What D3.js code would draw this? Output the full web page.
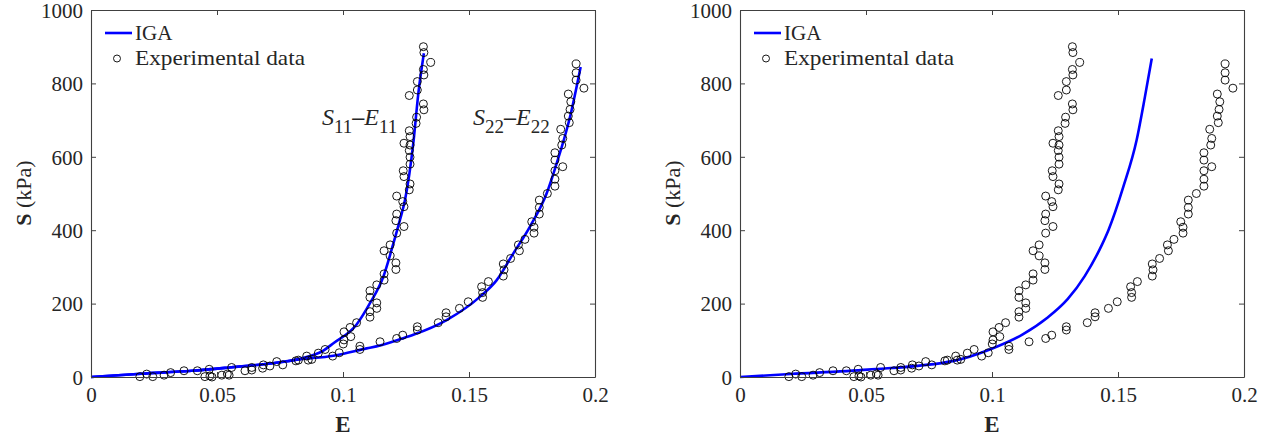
<!DOCTYPE html>
<html><head><meta charset="utf-8">
<script src="https://cdn.jsdelivr.net/npm/d3@7"></script>
<style>body{margin:0;background:#fff}svg{display:block}text{font-family:"Liberation Serif","Times New Roman",serif;fill:#262626}</style>
</head><body><svg id="c" width="1270" height="439" font-family="Liberation Serif"></svg>
<script>
// Experimental data S11-E11
const s11E = [.0194,.0221,.0245,.0290,.0316,.0369,.0422,.0452,.0469,.0472,.0480,.0519,.0541,.0548,.0558,.0611,.0638,.0638,.0681,.0684,.0710,.0737,.0761,.0813,.0823,.0856,.0862,.0876,.0902,.0929,
.1001,.1004,.1004,.1031,.1028,.1054,.1107,.1107,.1134,.1134,.1107,.1107,.1134,.1163,.1163,.1210,.1210,.1187,.1163,.1187,.1213,.1242,.1210,.1213,.1242,.1237,.1213,.1263,.1266,.1242,.1239,.1266,.1266,.1263,.1266,.1242,.1266,.1263,.1290,.1292,.1321,.1319,.1263,.1295,.1295,.1321,.1319,.1348,.1321,.1319];
const s11S = [1,8,1,5,12,17,17,1,21,3,0,5,8,5,26,17,26,19,24,33,30,42,33,44,46,57,46,48,65,75,
90,101,123,110,135,148,163,178,187,202,217,235,251,264,281,293,311,330,344,360,392,410,426,444,464,478,493,510,526,546,562,580,599,617,632,637,655,671,691,708,728,744,767,782,805,823,838,857,884,900];
// Experimental data S22-E22
const s22E = [.0959,.0985,.1067,.1067,.1147,.1213,.1237,.1295,.1295,.1378,.1409,.1409,.1462,.1497,.1554,.1554,.1550,.1577,.1636,.1639,.1636,.1665,.1700,.1696,.1722,.1758,.1758,.1749,.1779,.1779,.1779,.1811,.1841,.1841,.1841,.1872,.1841,.1841,.1868,.1872,.1864,.1898,.1894,.1901,.1904,.1894,.1956,.1925,.1925,.1925];
const s22S = [57,66,75,84,96,105,114,128,137,148,164,175,187,205,217,230,246,260,275,292,308,323,344,360,375,392,408,423,444,462,482,500,520,539,562,573,591,611,632,650,675,693,711,729,750,771,787,809,829,853];
// IGA fits, left panel
const igaL11E = [0,.02,.04,.055,.07,.0829,.0922,.0962,.1054,.1107,.1160,.1200,.1226,.1246,.1279,.1299,.1321];
const igaL11S = [0,9,17,26,36,50,72,92,143,201,273,364,428,482,637,773,882];
const igaL22E = [0,.02,.04,.055,.07,.0829,.0962,.1094,.1147,.1226,.1279,.1411,.1544,.1610,.1676,.1742,.1808,.1848,.1901,.1943];
const igaL22S = [0,9,17,26,36,48,58,78,86,103,115,155,219,264,337,410,500,582,709,845];
// IGA fit, right panel
const igaRE = [0,.02,.0507,.0848,.0999,.1122,.1217,.1300,.1368,.1436,.1462,.1521,.1574,.1607,.1634];
const igaRS = [0,8,20,44,77,116,160,212,275,360,400,518,646,764,868];
const xTicks = [0,0.05,0.1,0.15,0.2];
const yTicks = [0,200,400,600,800,1000];
const xTickLabels = ["0","0.05","0.1","0.15","0.2"];
const yTickLabels = ["0","200","400","600","800","1000"];
const legendLabels = ["IGA","Experimental data"];

const svg = d3.select("#c");
const pts = (E,S)=>E.map((e,i)=>[e,S[i]]);
const expPts = pts(s11E,s11S).concat(pts(s22E,s22S));
const FF = "Liberation Serif";

function panel(x0,x1,curves,annot){
  const x = d3.scaleLinear().domain([0,0.2]).range([x0,x1]);
  const y = d3.scaleLinear().domain([0,1000]).range([377,10]);
  const g = svg.append("g");
  const line = d3.line().x(d=>x(d[0])).y(d=>y(d[1])).curve(d3.curveMonotoneX);
  curves.forEach(c=>g.append("path").attr("d",line(c)).attr("fill","none").attr("stroke","#0000ff").attr("stroke-width",2.6));
  g.selectAll("circle.e").data(expPts).join("circle").attr("class","e")
    .attr("cx",d=>x(d[0])).attr("cy",d=>y(d[1])).attr("r",4)
    .attr("fill","none").attr("stroke","#000").attr("stroke-width",0.9);
  const ac="#404040";
  const ax = g.append("g").attr("transform","translate(0,377)").call(d3.axisBottom(x).tickValues(xTicks).tickFormat((d,i)=>xTickLabels[i]).tickSizeInner(-5).tickSizeOuter(0).tickPadding(10));
  const ax2 = g.append("g").attr("transform","translate(0,10)").call(d3.axisTop(x).tickValues(xTicks).tickFormat("").tickSizeInner(-5).tickSizeOuter(0));
  const ay = g.append("g").attr("transform",`translate(${x0},0)`).call(d3.axisLeft(y).tickValues(yTicks).tickFormat((d,i)=>yTickLabels[i]).tickSizeInner(-5).tickSizeOuter(0).tickPadding(8));
  const ay2 = g.append("g").attr("transform",`translate(${x1},0)`).call(d3.axisRight(y).tickValues(yTicks).tickFormat("").tickSizeInner(-5).tickSizeOuter(0));
  [ax,ax2,ay,ay2].forEach(a=>{a.attr("font-family",FF);a.select(".domain").attr("stroke",ac).attr("stroke-width",1.1);a.selectAll(".tick line").attr("stroke",ac);
    a.selectAll("text").attr("font-family",FF).attr("font-size",21).attr("fill","#262626");});
  ay.selectAll("text").attr("dy","0.35em");
  ax.selectAll("text").attr("dy","0.71em");
  g.append("text").attr("x",(x0+x1)/2).attr("y",432).attr("text-anchor","middle").attr("font-size",23).attr("font-weight","bold").text("E");
  const yl = g.append("text").attr("transform",`translate(${x0-60},193) rotate(-90)`).attr("text-anchor","middle").attr("font-size",22);
  yl.append("tspan").attr("font-weight","bold").text("S");
  yl.append("tspan").text(" (kPa)");
  g.append("line").attr("x1",x0+14).attr("x2",x0+41).attr("y1",33).attr("y2",33).attr("stroke","#0000ff").attr("stroke-width",2.6);
  g.append("text").attr("x",x0+44).attr("y",40).attr("font-size",21).text(legendLabels[0]);
  g.append("circle").attr("cx",x0+26).attr("cy",58.5).attr("r",3.5).attr("fill","none").attr("stroke","#000").attr("stroke-width",0.9);
  g.append("text").attr("x",x0+44).attr("y",65).attr("font-size",21).attr("textLength",170).attr("lengthAdjust","spacingAndGlyphs").text(legendLabels[1]);
  if(annot){
    annot.forEach(a=>{
      const t = g.append("text").attr("x",a.x).attr("y",a.y).attr("font-size",24).attr("fill","#000");
      t.append("tspan").attr("font-style","italic").text("S");
      t.append("tspan").attr("font-size",19).attr("dy",8).text(a.s);
      t.append("tspan").attr("dy",-8).attr("font-weight","bold").text("\u2013");
      t.append("tspan").attr("font-style","italic").text("E");
      t.append("tspan").attr("font-size",19).attr("dy",8).text(a.s);
    });
  }
}
panel(91,595,[pts(igaL11E,igaL11S),pts(igaL22E,igaL22S)],[{x:322,y:125,s:"11"},{x:473,y:125,s:"22"}]);
panel(740,1244,[pts(igaRE,igaRS)],null);
</script></body></html>
